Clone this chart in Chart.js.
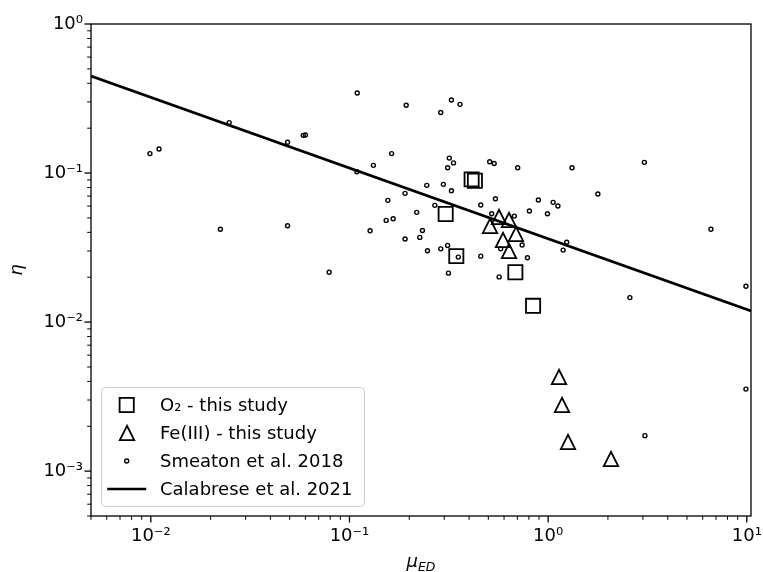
<!DOCTYPE html>
<html>
<head>
<meta charset="utf-8">
<script src="https://cdn.jsdelivr.net/npm/chart.js@4/dist/chart.umd.min.js"></script>
<style>
  html, body { margin: 0; padding: 0; background: #ffffff; }
  canvas { display: block; }
</style>
</head>
<body>
<canvas id="chart" width="763" height="572"></canvas>
<script>
// ---------------- data ----------------
const seriesLabels = ['O₂ - this study', 'Fe(III) - this study', 'Smeaton et al. 2018', 'Calabrese et al. 2021'];

const o2X = [0.412, 0.428, 0.305, 0.345, 0.684, 0.840];
const o2Y = [0.0907, 0.0888, 0.0531, 0.0277, 0.0216, 0.01286];

const feX = [0.510, 0.569, 0.634, 0.692, 0.596, 0.637, 1.131, 1.171, 1.255, 2.065];
const feY = [0.0443, 0.0509, 0.0484, 0.0388, 0.0355, 0.0298, 0.00425, 0.00276, 0.00157, 0.00120];

const smeatonX = [0.0099, 0.0110, 0.0248, 0.0488, 0.0585, 0.0600, 0.1094, 0.132, 0.109, 0.163,
                  0.0224, 0.0488, 0.079, 0.127, 0.153, 0.166, 0.156, 0.193, 0.326, 0.360,
                  0.288, 0.318, 0.334, 0.312, 0.508, 0.535, 0.703, 1.32, 3.05, 0.245,
                  0.297, 0.326, 0.1905, 0.269, 0.218, 0.233, 0.226, 0.1905, 0.247, 0.288,
                  0.312, 0.353, 0.315, 0.458, 0.543, 0.458, 0.520, 0.676, 0.805, 0.893,
                  1.06, 1.12, 0.992, 1.78, 6.6, 9.9, 0.740, 0.577, 0.787, 0.567,
                  1.19, 1.24, 2.58, 9.9, 3.07];
const smeatonY = [0.135, 0.145, 0.218, 0.161, 0.179, 0.180, 0.344, 0.1126, 0.102, 0.135,
                  0.042, 0.0443, 0.0216, 0.041, 0.0481, 0.0493, 0.0656, 0.285, 0.309, 0.289,
                  0.255, 0.126, 0.117, 0.1086, 0.119, 0.116, 0.1086, 0.1086, 0.118, 0.0827,
                  0.0840, 0.076, 0.0731, 0.0607, 0.0545, 0.0412, 0.037, 0.0361, 0.0301, 0.031,
                  0.0327, 0.0273, 0.0213, 0.061, 0.0672, 0.0277, 0.0533, 0.0514, 0.0556, 0.0659,
                  0.0636, 0.0601, 0.0533, 0.0723, 0.042, 0.0174, 0.0329, 0.031, 0.027, 0.0201,
                  0.0304, 0.0343, 0.0146, 0.00355, 0.00173];

const calabreseX = [0.005, 10.5];
const calabreseY = [0.448, 0.01187];

const xLimits = [0.005, 10.5];
const yLimits = [0.0005, 1];
const xMajorExps = [-2, -1, 0, 1];
const xTickLabels = ['10⁻²', '10⁻¹', '10⁰', '10¹'];
const yMajorExps = [-3, -2, -1, 0];
const yTickLabels = ['10⁻³', '10⁻²', '10⁻¹', '10⁰'];
const xTitleMain = 'μ';
const xTitleSub = 'ED';
const yTitle = 'η';

// ---------------- helpers ----------------
const FONT = '"DejaVu Sans", "Liberation Sans", sans-serif';
const toPoints = (xs, ys) => xs.map((x, i) => ({ x: x, y: ys[i] }));

function buildLogTicks(min, max) {
  const ticks = [];
  const e0 = Math.floor(Math.log10(min)), e1 = Math.ceil(Math.log10(max));
  for (let e = e0; e <= e1; e++) {
    for (let k = 1; k <= 9; k++) {
      const v = k * Math.pow(10, e);
      if (v >= min * 0.9999 && v <= max * 1.0001) ticks.push({ value: v, major: k === 1 });
    }
  }
  return ticks;
}
function labelFor(value, exps, labels) {
  const lg = Math.log10(value);
  const r = Math.round(lg);
  if (Math.abs(lg - r) > 1e-6) return '';
  const i = exps.indexOf(r);
  return i >= 0 ? labels[i] : '';
}

function makeTriangle() {
  const s = 22, c = document.createElement('canvas');
  c.width = s; c.height = s;
  const g = c.getContext('2d');
  const h = 7.2, cx = s / 2, cy = s / 2;
  g.beginPath();
  g.moveTo(cx, cy - h);
  g.lineTo(cx - h, cy + h);
  g.lineTo(cx + h, cy + h);
  g.closePath();
  g.lineWidth = 1.8;
  g.strokeStyle = '#000';
  g.stroke();
  return c;
}
const triImg = makeTriangle();

// ---------------- plugins ----------------
const crispImages = {
  id: 'crispImages',
  beforeDatasetsDraw(chart) { chart.ctx.imageSmoothingEnabled = false; },
  afterDatasetsDraw(chart) { chart.ctx.imageSmoothingEnabled = true; }
};

const axesDecor = {
  id: 'axesDecor',
  afterDraw(chart) {
    const { ctx, chartArea: a, scales } = chart;
    ctx.save();
    ctx.strokeStyle = '#000';
    // tick marks (outward, major + minor)
    scales.x.ticks.forEach(t => {
      const p = scales.x.getPixelForValue(t.value);
      ctx.lineWidth = t.major ? 1.3 : 1.0;
      const len = t.major ? 6.5 : 3.8;
      ctx.beginPath(); ctx.moveTo(p, a.bottom); ctx.lineTo(p, a.bottom + len); ctx.stroke();
    });
    scales.y.ticks.forEach(t => {
      const p = scales.y.getPixelForValue(t.value);
      ctx.lineWidth = t.major ? 1.3 : 1.0;
      const len = t.major ? 6.5 : 3.8;
      ctx.beginPath(); ctx.moveTo(a.left, p); ctx.lineTo(a.left - len, p); ctx.stroke();
    });
    // spines
    ctx.lineWidth = 1.3;
    ctx.strokeRect(a.left, a.top, a.right - a.left, a.bottom - a.top);

    // axis titles
    ctx.fillStyle = '#000';
    const cx = (a.left + a.right) / 2;
    ctx.font = 'italic 18px ' + FONT;
    const wMain = ctx.measureText(xTitleMain).width;
    ctx.font = 'italic 12.5px ' + FONT;
    const wSub = ctx.measureText(xTitleSub).width;
    const x0 = cx - (wMain + wSub) / 2;
    ctx.textBaseline = 'alphabetic';
    ctx.textAlign = 'left';
    ctx.font = 'italic 18px ' + FONT;
    ctx.fillText(xTitleMain, x0, 567);
    ctx.font = 'italic 12.5px ' + FONT;
    ctx.fillText(xTitleSub, x0 + wMain, 571);

    ctx.save();
    ctx.translate(22, (a.top + a.bottom) / 2);
    ctx.rotate(-Math.PI / 2);
    ctx.font = 'italic 18px ' + FONT;
    ctx.textAlign = 'center';
    ctx.fillText(yTitle, 0, 0);
    ctx.restore();

    // legend (lower left)
    const L = a.left + 10, B = a.bottom - 10, W = 263, H = 119, T = B - H;
    ctx.beginPath();
    if (ctx.roundRect) ctx.roundRect(L + 0.5, T + 0.5, W, H, 4); else ctx.rect(L + 0.5, T + 0.5, W, H);
    ctx.fillStyle = 'rgba(255,255,255,0.8)';
    ctx.fill();
    ctx.strokeStyle = '#cccccc';
    ctx.lineWidth = 1;
    ctx.stroke();

    const mx = L + 25.7, tx = L + 59;
    const rows = [T + 18, T + 46, T + 74, T + 102];
    ctx.strokeStyle = '#000';
    ctx.lineWidth = 1.8;
    ctx.strokeRect(mx - 7.1, rows[0] - 7.1, 14.2, 14.2);
    ctx.imageSmoothingEnabled = false;
    ctx.drawImage(triImg, Math.round(mx - 11), Math.round(rows[1] - 11));
    ctx.imageSmoothingEnabled = true;
    ctx.lineWidth = 1.4;
    ctx.beginPath(); ctx.arc(mx, rows[2], 2, 0, Math.PI * 2); ctx.stroke();
    ctx.lineWidth = 2.7;
    ctx.beginPath(); ctx.moveTo(mx - 19.5, rows[3]); ctx.lineTo(mx + 19.5, rows[3]); ctx.stroke();

    ctx.fillStyle = '#000';
    ctx.font = '18px ' + FONT;
    ctx.textAlign = 'left';
    ctx.textBaseline = 'middle';
    seriesLabels.forEach((s, i) => ctx.fillText(s, tx, rows[i] + 1));
    ctx.restore();
  }
};

// ---------------- chart ----------------
new Chart(document.getElementById('chart'), {
  type: 'scatter',
  data: {
    datasets: [
      {
        label: seriesLabels[0],
        data: toPoints(o2X, o2Y),
        pointStyle: 'rect',
        pointRadius: 10,
        pointBorderWidth: 1.8,
        pointBorderColor: '#000',
        pointBackgroundColor: 'rgba(0,0,0,0)',
        showLine: false
      },
      {
        label: seriesLabels[1],
        data: toPoints(feX, feY),
        pointStyle: triImg,
        pointRadius: 10,
        pointBorderColor: '#000',
        pointBackgroundColor: 'rgba(0,0,0,0)',
        showLine: false
      },
      {
        label: seriesLabels[2],
        data: toPoints(smeatonX, smeatonY),
        pointStyle: 'circle',
        pointRadius: 2,
        pointBorderWidth: 1.4,
        pointBorderColor: '#000',
        pointBackgroundColor: 'rgba(0,0,0,0)',
        showLine: false
      },
      {
        label: seriesLabels[3],
        data: toPoints(calabreseX, calabreseY),
        showLine: true,
        borderColor: '#000',
        borderWidth: 2.7,
        pointRadius: 0,
        fill: false
      }
    ]
  },
  options: {
    responsive: false,
    animation: false,
    events: [],
    layout: { padding: { top: 24, right: 12, left: 0, bottom: 0 } },
    plugins: { legend: { display: false }, tooltip: { enabled: false }, title: { display: false } },
    scales: {
      x: {
        type: 'logarithmic',
        min: xLimits[0], max: xLimits[1],
        grid: { display: false, drawTicks: false },
        border: { display: false },
        afterBuildTicks: s => { s.ticks = buildLogTicks(xLimits[0], xLimits[1]); },
        afterFit: s => { s.height = 56; s.paddingLeft = 0; s.paddingRight = 0; },
        ticks: {
          autoSkip: false, maxRotation: 0, minRotation: 0, padding: 10,
          color: '#000', font: { family: FONT, size: 18 },
          callback: v => labelFor(v, xMajorExps, xTickLabels)
        }
      },
      y: {
        type: 'logarithmic',
        min: yLimits[0], max: yLimits[1],
        grid: { display: false, drawTicks: false },
        border: { display: false },
        afterBuildTicks: s => { s.ticks = buildLogTicks(yLimits[0], yLimits[1]); },
        afterFit: s => { s.width = 91; s.paddingTop = 0; s.paddingBottom = 0; },
        ticks: {
          autoSkip: false, padding: 8,
          color: '#000', font: { family: FONT, size: 18 },
          callback: v => labelFor(v, yMajorExps, yTickLabels)
        }
      }
    }
  },
  plugins: [crispImages, axesDecor]
});
</script>
</body>
</html>
